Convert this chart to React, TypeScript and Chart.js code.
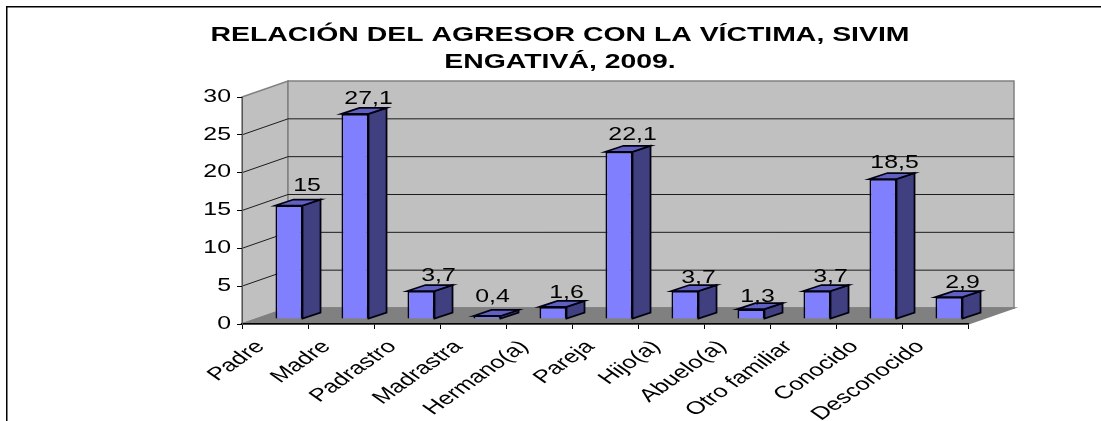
import React, { useEffect, useRef } from "react";
import { Chart, registerables } from "chart.js";

Chart.register(...registerables);

const categories = ["Padre", "Madre", "Padrastro", "Madrastra", "Hermano(a)", "Pareja", "Hijo(a)", "Abuelo(a)", "Otro familiar", "Conocido", "Desconocido"];
const values = [15, 27.1, 3.7, 0.4, 1.6, 22.1, 3.7, 1.3, 3.7, 18.5, 2.9];
const titleLines = ["RELACIÓN DEL AGRESOR CON LA VÍCTIMA, SIVIM", "ENGATIVÁ, 2009."];
const FONT = "'Liberation Sans', Arial, sans-serif";

const WALL_DX = 46, WALL_DY = 16;
const BAR_SHIFT_X = 14, BAR_SHIFT_Y = 5;
const BAR_DX = 18, BAR_DY = 6;
const STRETCH = 1.42;
// The reference's value labels sit by hand at slightly different places around their bars.
const LABEL_SHIFT = [4.5, 0, 4, -8, 0, 0, 0, -7, 0, -2, 0];
const LABEL_GAP = [15, 10, 10, 14, 8.7, 11.5, 8, 7.6, 8.7, 10.7, 9];

// The reference's text is stretched sideways, so every label goes through this.
function wideText(ctx: any, text: string, x: number, y: number, font: string, align: string, baseline: string, rotation = 0) {
  ctx.save();
  ctx.translate(x, y);
  ctx.scale(STRETCH, 1);
  ctx.rotate(rotation);
  ctx.font = font;
  ctx.fillStyle = "#000";
  ctx.textAlign = align;
  ctx.textBaseline = baseline;
  ctx.fillText(text, 0, 0);
  ctx.restore();
}

const threeD = {
  id: "threeD",
  beforeDraw(chart: any) {
    const { ctx, chartArea: a, scales } = chart;
    ctx.save();
    ctx.fillStyle = "#fff";
    ctx.fillRect(0, 0, chart.width, chart.height);
    ctx.strokeStyle = "#000";
    ctx.lineWidth = 1.5;
    ctx.beginPath();
    ctx.moveTo(6.75, 421);
    ctx.lineTo(6.75, 6.75);
    ctx.lineTo(1101, 6.75);
    ctx.stroke();

    const poly = (pts: number[][], fill: string, stroke: string) => {
      ctx.beginPath();
      pts.forEach((p, i) => (i ? ctx.lineTo(p[0], p[1]) : ctx.moveTo(p[0], p[1])));
      ctx.closePath();
      ctx.fillStyle = fill;
      ctx.fill();
      ctx.strokeStyle = stroke;
      ctx.lineWidth = 1.5;
      ctx.stroke();
    };
    poly([[a.left, a.top], [a.left + WALL_DX, a.top - WALL_DY], [a.left + WALL_DX, a.bottom - WALL_DY], [a.left, a.bottom]], "#c0c0c0", "#808080");
    poly([[a.left + WALL_DX, a.top - WALL_DY], [a.right + WALL_DX, a.top - WALL_DY], [a.right + WALL_DX, a.bottom - WALL_DY], [a.left + WALL_DX, a.bottom - WALL_DY]], "#c0c0c0", "#808080");
    ctx.strokeStyle = "#1c1c1c";
    ctx.lineWidth = 1;
    scales.y.ticks.forEach((t: any) => {
      if (t.value === 0 || t.value === 30) return;
      const y = scales.y.getPixelForValue(t.value);
      ctx.beginPath();
      ctx.moveTo(a.left, y);
      ctx.lineTo(a.left + WALL_DX, y - WALL_DY);
      ctx.lineTo(a.right + WALL_DX, y - WALL_DY);
      ctx.stroke();
    });
    poly([[a.left, a.bottom], [a.right, a.bottom], [a.right + WALL_DX, a.bottom - WALL_DY], [a.left + WALL_DX, a.bottom - WALL_DY]], "#808080", "#808080");
    ctx.restore();
  },
  beforeDatasetsDraw(chart: any) {
    const { ctx } = chart;
    ctx.save();
    ctx.translate(BAR_SHIFT_X, -BAR_SHIFT_Y);
    ctx.lineWidth = 1.75;
    ctx.strokeStyle = "#000010";
    ctx.lineJoin = "miter";
    chart.getDatasetMeta(0).data.forEach((b: any) => {
      const l = b.x - b.width / 2, r = b.x + b.width / 2;
      ctx.fillStyle = "#404080";
      ctx.beginPath();
      ctx.moveTo(r, b.y);
      ctx.lineTo(r + BAR_DX, b.y - BAR_DY);
      ctx.lineTo(r + BAR_DX, b.base - BAR_DY);
      ctx.lineTo(r, b.base);
      ctx.closePath();
      ctx.fill();
      ctx.stroke();
      ctx.fillStyle = "#6060c0";
      ctx.beginPath();
      ctx.moveTo(l, b.y);
      ctx.lineTo(l + BAR_DX, b.y - BAR_DY);
      ctx.lineTo(r + BAR_DX, b.y - BAR_DY);
      ctx.lineTo(r, b.y);
      ctx.closePath();
      ctx.fill();
      ctx.stroke();
    });
  },
  afterDatasetsDraw(chart: any) {
    const { ctx, scales } = chart;
    ctx.restore();
    const font = `17.5px ${FONT}`;
    chart.getDatasetMeta(0).data.forEach((b: any, i: number) => {
      const x = b.x + b.width / 2 + BAR_SHIFT_X + LABEL_SHIFT[i];
      wideText(ctx, String(values[i]).replace(".", ","), x, b.y - BAR_SHIFT_Y - LABEL_GAP[i], font, "center", "alphabetic");
    });
    scales.y.ticks.forEach((t: any) => {
      wideText(ctx, String(t.value), 231, scales.y.getPixelForValue(t.value), font, "right", "middle");
    });
    categories.forEach((c, i) => {
      const x = scales.x.getPixelForTick(i);
      wideText(ctx, c, x - 14.5, scales.x.top + 20, `18px ${FONT}`, "right", "middle", -Math.PI / 4);
    });
    titleLines.forEach((line, i) => {
      wideText(ctx, line, 560, 41 + i * 27, `bold 20px ${FONT}`, "center", "alphabetic");
    });
  },
};

export default function App() {
  const ref = useRef<HTMLCanvasElement>(null);
  useEffect(() => {
    const chart = new Chart(ref.current!, {
      type: "bar",
      data: {
        labels: categories,
        datasets: [
          {
            data: values,
            backgroundColor: "#8080ff",
            borderColor: "#000010",
            borderWidth: 1.75,
            categoryPercentage: 1,
            barPercentage: 0.41,
            clip: false,
          } as any,
        ],
      },
      options: {
        responsive: false,
        animation: false,
        events: [],
        layout: { padding: { left: 152, right: 133, top: 97, bottom: 0 } },
        plugins: {
          legend: { display: false },
          tooltip: { enabled: false },
          title: { display: false },
        },
        scales: {
          x: {
            afterFit: (s: any) => { s.height = 97; },
            grid: { drawOnChartArea: false, drawTicks: true, tickLength: 5, color: "#000", offset: true },
            border: { color: "#000", width: 1.5 },
            ticks: { display: false, autoSkip: false },
          },
          y: {
            min: 0,
            max: 30,
            afterFit: (s: any) => { s.width = 90; },
            grid: { drawOnChartArea: false, drawTicks: true, tickLength: 5, color: "#000" },
            border: { color: "#555", width: 1 },
            ticks: { display: false, stepSize: 5 },
          },
        },
      },
      plugins: [threeD],
    } as any);
    return () => chart.destroy();
  }, []);
  return (
    <div style={{ position: "absolute", left: 0, top: 0 }}>
      <canvas ref={ref} width={1101} height={421} style={{ display: "block" }} />
    </div>
  );
}
